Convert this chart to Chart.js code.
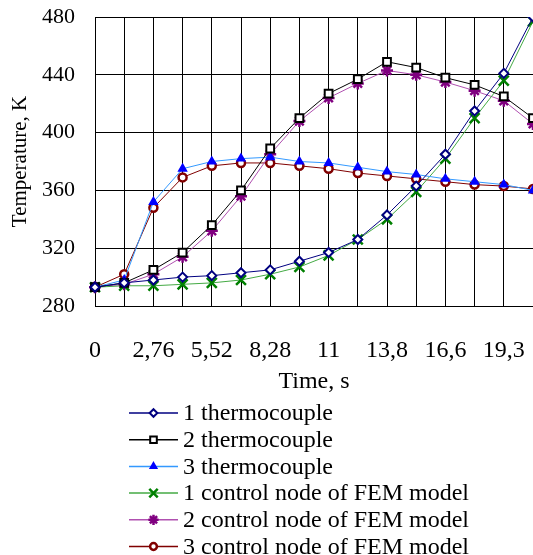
<!DOCTYPE html>
<html>
<head>
<meta charset="utf-8">
<script src="https://cdn.jsdelivr.net/npm/chart.js@4/dist/chart.umd.min.js"></script>
<style>
  html, body { margin: 0; padding: 0; background: #fff; }
  #wrap { width: 533px; height: 555px; }
</style>
</head>
<body>
<div id="wrap"><canvas id="tempChart"></canvas></div>
<script>
// time steps, s
const times = [0, 1.38, 2.76, 4.14, 5.52, 6.9, 8.28, 9.66, 11.04, 12.42, 13.8, 15.18, 16.56, 17.94, 19.32, 20.7];
// labels shown under the axis (every other step)
const tickLabels = ['0', '', '2,76', '', '5,52', '', '8,28', '', '11', '', '13,8', '', '16,6', '', '19,3', ''];
const yTicks = [280, 320, 360, 400, 440, 480];

// temperatures, K
const thermo1 = [293, 296, 298, 300, 301, 303, 305, 311, 317, 326, 343, 363, 385, 415, 441, 480];
const thermo2 = [293, 296, 305, 317, 336, 360, 389, 410, 427, 437, 449, 445, 438, 433, 425, 410];
const thermo3 = [293, 298, 352, 375, 380, 382, 383, 380, 379, 376, 373, 371, 368, 366, 364, 360];
const fem1 = [293, 294, 294, 295, 296, 298, 302, 307, 315, 326, 340, 359, 382, 410, 436, 477];
const fem2 = [293, 295, 302, 314, 332, 356, 385, 408, 424, 434, 443, 440, 435, 429, 422, 406];
const fem3 = [293, 302, 348, 369, 377, 379, 379, 377, 375, 372, 370, 368, 366, 364, 363, 361];

const serif = "'Liberation Serif', 'Times New Roman', serif";

function series(label, data, line, marker, fill, style, radius, bw) {
  return {
    label: label,
    data: data,
    borderColor: line,
    borderWidth: 1,
    pointStyle: style,
    pointRadius: radius,
    pointBorderColor: marker,
    pointBackgroundColor: fill,
    pointBorderWidth: bw,
    tension: 0,
    fill: false
  };
}

const datasets = [
  series('1 thermocouple', thermo1, '#000080', '#000080', '#ffffff', 'rectRot', 4.5, 2),
  series('2 thermocouple', thermo2, '#000000', '#000000', '#ffffff', 'rect', 5.5, 2),
  series('3 thermocouple', thermo3, '#3399ff', '#0000ff', '#0000ff', 'triangle', 4.5, 1.5),
  series('1 control node of FEM model', fem1, '#44aa44', '#008000', '#008000', 'crossRot', 7, 2.5),
  series('2 control node of FEM model', fem2, '#b050b0', '#800080', '#800080', 'star', 6, 2.5),
  series('3 control node of FEM model', fem3, '#800000', '#800000', '#ffffff', 'circle', 4, 2.5)
];

// legend drawn as a single column under the plot
const columnLegend = {
  id: 'columnLegend',
  afterDraw(chart) {
    const ctx = chart.ctx;
    const top = 413, step = 26.7, x0 = 129, x1 = 178, tx = 183;
    ctx.save();
    chart.data.datasets.forEach((ds, i) => {
      const y = top + i * step;
      ctx.strokeStyle = ds.borderColor;
      ctx.lineWidth = 1.5;
      ctx.beginPath();
      ctx.moveTo(x0, y);
      ctx.lineTo(x1, y);
      ctx.stroke();
      ctx.fillStyle = ds.pointBackgroundColor;
      ctx.strokeStyle = ds.pointBorderColor;
      ctx.lineWidth = ds.pointBorderWidth;
      Chart.helpers.drawPoint(ctx, {
        pointStyle: ds.pointStyle,
        radius: ds.pointRadius * 0.85,
        borderWidth: ds.pointBorderWidth,
        rotation: 0
      }, (x0 + x1) / 2, y);
      ctx.fillStyle = '#000';
      ctx.font = '24px ' + serif;
      ctx.textAlign = 'left';
      ctx.textBaseline = 'middle';
      ctx.fillText(ds.label, tx, y + 1);
    });
    ctx.restore();
  }
};

const ctx = document.getElementById('tempChart').getContext('2d');
const tempChart = new Chart(ctx, {
  type: 'line',
  data: {
    labels: times,
    datasets: datasets
  },
  options: {
    responsive: true,
    maintainAspectRatio: false,
    animation: false,
    layout: {
      autoPadding: false,
      padding: { top: 17, right: 0, bottom: 157, left: 0 }
    },
    scales: {
      x: {
        type: 'category',
        offset: false,
        grid: { color: '#000', lineWidth: 1, drawTicks: true, tickLength: 30, tickColor: 'rgba(0,0,0,0)' },
        border: { color: '#000', width: 1 },
        ticks: {
          autoSkip: false,
          maxRotation: 0,
          padding: 0,
          color: '#000',
          font: { family: serif, size: 24 },
          callback: (value, index) => tickLabels[index]
        },
        title: {
          display: true,
          text: 'Time, s',
          color: '#000',
          font: { family: serif, size: 24 },
          padding: { top: 0, bottom: 2 }
        },
        afterFit: (scale) => { scale.height = 92; }
      },
      y: {
        min: yTicks[0],
        max: yTicks[yTicks.length - 1],
        afterBuildTicks: (scale) => { scale.ticks = yTicks.map(v => ({ value: v })); },
        grid: { color: '#000', lineWidth: 1, drawTicks: true, tickLength: 20, tickColor: 'rgba(0,0,0,0)' },
        border: { color: '#000', width: 1 },
        ticks: {
          padding: 0,
          color: '#000',
          font: { family: serif, size: 22 }
        },
        title: {
          display: true,
          text: 'Temperature, K',
          color: '#000',
          font: { family: serif, size: 21 },
          padding: { top: 8, bottom: 0 }
        },
        afterFit: (scale) => { scale.width = 95; }
      }
    },
    plugins: {
      legend: { display: false },
      tooltip: { enabled: false }
    }
  },
  plugins: [columnLegend]
});
</script>
</body>
</html>
